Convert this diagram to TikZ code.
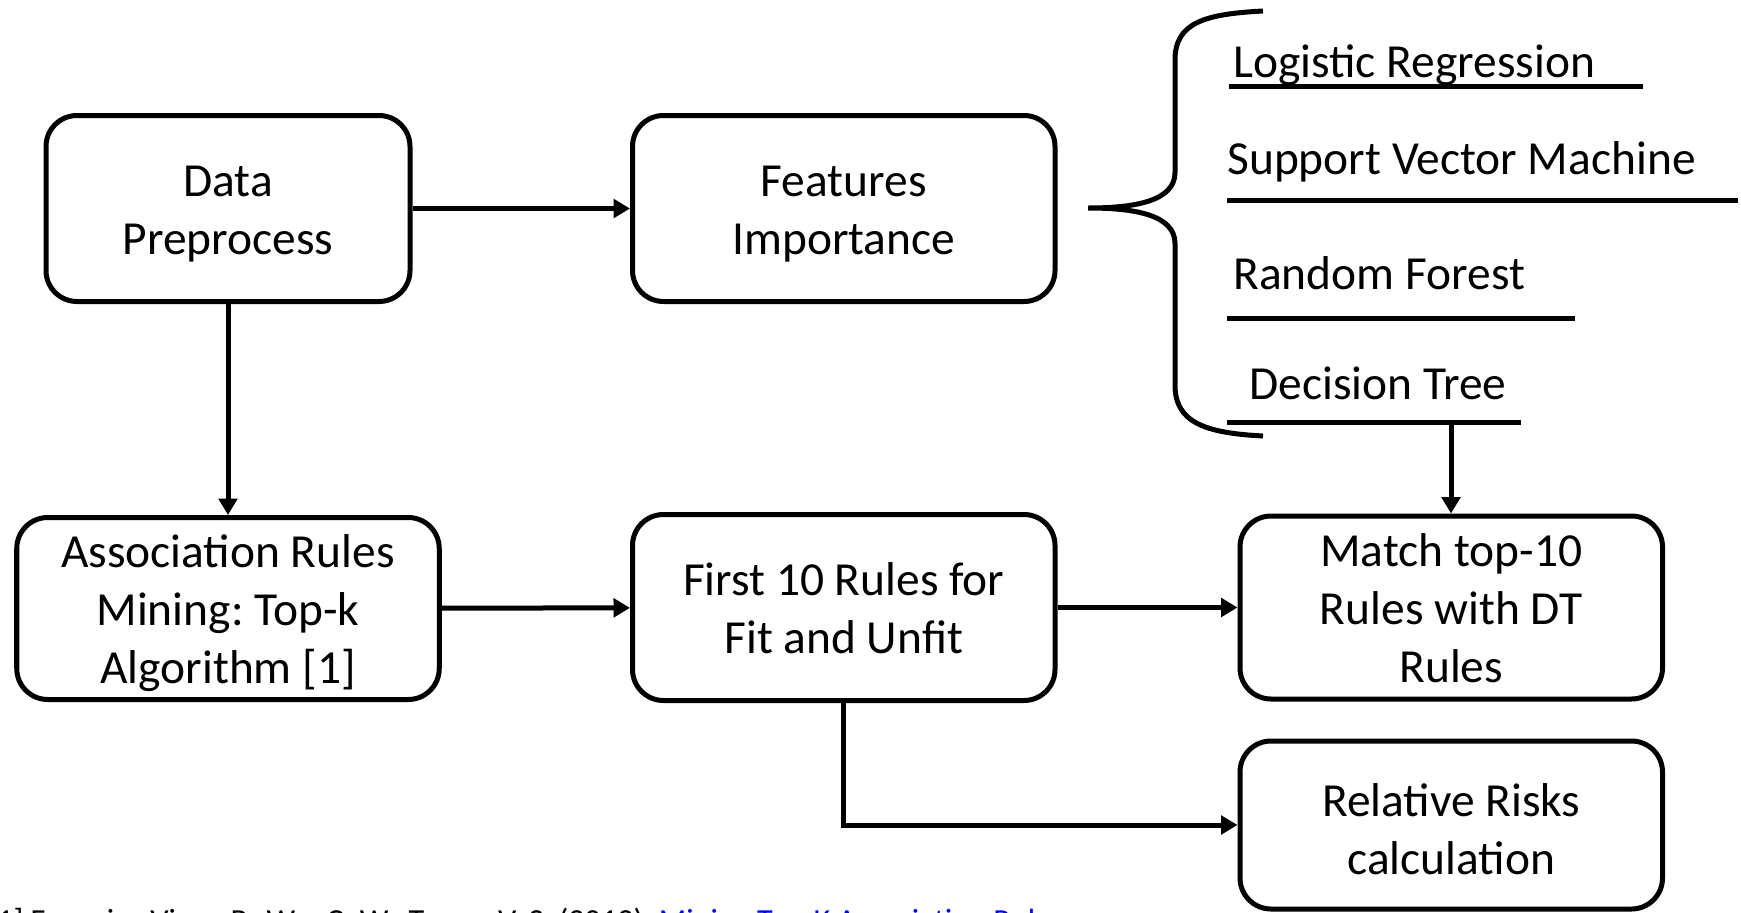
\documentclass[tikz,border=0pt]{standalone}
\usepackage{fontspec}
\setmainfont{Carlito}
\usepackage{xcolor}
\definecolor{citeblue}{RGB}{0,0,238}
\usetikzlibrary{arrows.meta, positioning}
\frenchspacing
\newcommand{\topstrut}[1][25.5pt]{\rule{0pt}{#1}}

\begin{document}
\begin{tikzpicture}[
  node distance=4.2cm and 4.35cm,
  procbox/.style={rectangle, rounded corners=0.62cm, draw=black, line width=0.1cm,
               minimum width=8.45cm, minimum height=3.72cm, font=\fontsize{27}{33}\selectfont,
               align=center, inner xsep=4pt, inner ysep=0pt,
               execute at end node={\rule[-6.5pt]{0pt}{6.5pt}}},
  arr/.style={-{Triangle[length=0.33cm, width=0.37cm]}, line width=0.1cm},
  mlabel/.style={anchor=base west, font=\fontsize{27}{33}\selectfont, inner sep=0pt},
  uline/.style={line width=0.1cm}
]
  \useasboundingbox (0,0) rectangle (34.82,-18.24);
  \clip (0,0) rectangle (34.82,-18.24);

  \node[procbox, minimum width=7.28cm] (data) at (4.56,-4.17) {\topstrut Data\\Preprocess};
  \node[procbox, right=4.35cm of data] (feat) {\topstrut Features\\Importance};
  \node[procbox, minimum height=3.64cm, below=4.22cm of data] (assoc)
    {\topstrut Association Rules\\Mining: Top-k\\Algorithm [1]};
  \node[procbox, below=4.16cm of feat] (first) {\topstrut First 10 Rules for\\Fit and Unfit};
  \node[procbox, minimum height=3.66cm, right=3.6cm of first] (match)
    {\topstrut Match top-10\\Rules with DT\\Rules};
  \node[procbox, minimum height=3.36cm, below=0.74cm of match] (risk)
    {\topstrut[30pt]Relative Risks\\calculation};

  % brace with the four classifiers
  \draw[line width=0.1cm] (25.26,-0.22) .. controls (24.1,-0.28) and (23.5,-0.45) .. (23.5,-1.2)
    -- (23.5,-3.45) .. controls (23.5,-4.02) and (22.7,-4.16) .. (21.76,-4.16)
    .. controls (22.7,-4.16) and (23.5,-4.3) .. (23.5,-4.87)
    -- (23.5,-7.7) .. controls (23.5,-8.45) and (24.1,-8.66) .. (25.26,-8.72);

  \node[mlabel] (lr) at (24.66,-1.54) {Logistic Regression};
  \node[mlabel] (svm) at (24.54,-3.48) {Support Vector Machine};
  \node[mlabel] (rf) at (24.66,-5.78) {Random Forest};
  \node[mlabel] (dt) at (24.98,-7.98) {Decision Tree};

  \draw[uline] (24.58,-1.72) -- (32.86,-1.72);
  \draw[uline] (24.54,-4.0) -- (34.76,-4.0);
  \draw[uline] (24.54,-6.36) -- (31.5,-6.36);
  \draw[uline] (24.54,-8.44) -- (30.42,-8.44);
  \coordinate (dtfoot) at (29.02,-8.44);

  \draw[arr] (data) -- (feat);
  \draw[arr] (data) -- (assoc);
  \draw[arr] (assoc) -- (first);
  \draw[arr] (first) -- (match);
  \draw[arr] (dtfoot) -- (dtfoot |- match.north);
  \draw[arr] (first.south) |- (risk);

  \node[anchor=base west, inner sep=0pt, font=\fontsize{18.3}{22}\selectfont] (cite) at (-0.26,-18.62)
    {[1] Fournier-Viger, P., Wu, C.-W., Tseng, V. S. (2012). \textcolor{citeblue}{Mining Top-K Association Rules}};
\end{tikzpicture}
\end{document}
